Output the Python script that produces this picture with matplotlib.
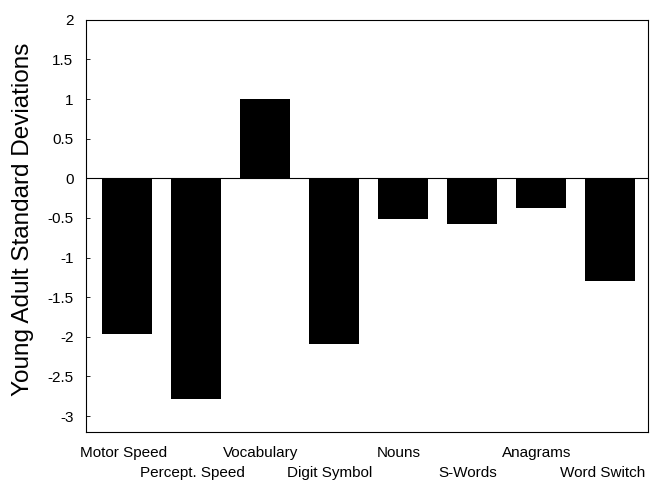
import matplotlib.pyplot as plt
import numpy as np

plt.rcParams['font.family'] = ['Liberation Sans', 'DejaVu Sans']

# data
categories = ["Motor Speed", "Percept. Speed", "Vocabulary", "Digit Symbol",
              "Nouns", "S-Words", "Anagrams", "Word Switch"]
values = [-1.97, -2.79, 1.0, -2.09, -0.52, -0.58, -0.37, -1.30]
yticks = [2, 1.5, 1, 0.5, 0, -0.5, -1, -1.5, -2, -2.5, -3]

fig = plt.figure(figsize=(6.51, 4.82), dpi=100)
ax = fig.add_axes([0.132, 0.104, 0.863, 0.855])

x = np.arange(len(categories))
ax.bar(x, values, width=0.72, color='black')
ax.axhline(0, color='black', lw=0.8)

ax.set_xlim(-0.6, len(categories) - 0.45)
ax.set_ylim(-3.2, 2)
ax.set_yticks(yticks)
ax.set_yticklabels([f"{t:g}" for t in yticks], fontsize=11)
ax.tick_params(axis='y', direction='in', length=3, width=0.6, pad=9)

# staggered category labels
ax.set_xticks([])
for i, name in enumerate(categories):
    y_off = -0.034 if i % 2 == 0 else -0.084
    xpos = i - 0.06 if i < len(categories) - 1 else i - 0.1
    ax.text(xpos, y_off, name, transform=ax.get_xaxis_transform(),
            ha='center', va='top', fontsize=11)

ax.set_ylabel("Young Adult Standard Deviations", fontsize=17.5)
ax.yaxis.set_label_coords(-0.093, 0.515)

for s in ax.spines.values():
    s.set_linewidth(0.8)

fig.savefig("out.png", dpi=100)
